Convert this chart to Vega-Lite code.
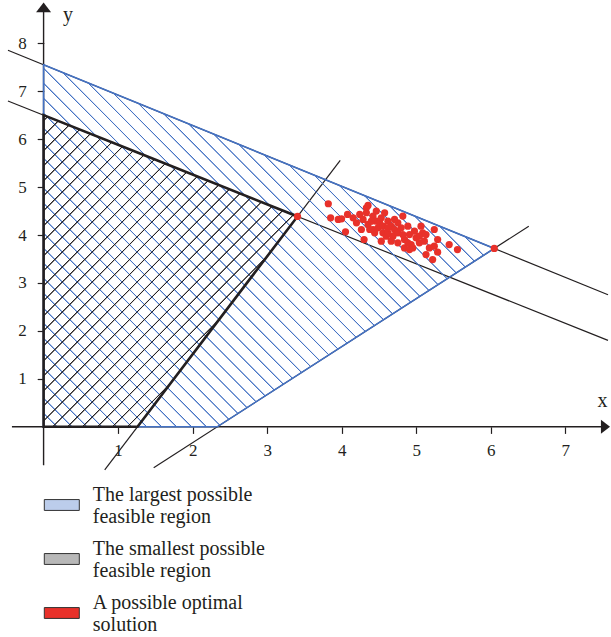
{
"$schema":"https://vega.github.io/schema/vega-lite/v6.json",
"width":611,"height":637,"padding":0,
"autosize":{"type":"fit","contains":"padding"},
"background":"white",
"config":{"view":{"stroke":null}},
"encoding":{
 "x":{"field":"x","type":"quantitative","scale":{"domain":[-0.5848,7.5728],"nice":false,"zero":false},
  "axis":{"orient":"bottom","offset":-210.2,"values":[1,2,3,4,5,6,7],"format":"d","domain":false,"grid":false,"tickSize":6.6,"tickColor":"#231f20","tickWidth":1.2,"labelFont":"Liberation Serif","labelFontSize":17,"labelColor":"#231f20","labelPadding":9,"labelFlush":false,"title":"x","titleFont":"Liberation Serif","titleFontSize":20,"titleFontWeight":"normal","titleColor":"#231f20","titleX":602,"titleY":-20,"titleAlign":"center","titleBaseline":"alphabetic","titleAngle":0}},
 "y":{"field":"y","type":"quantitative","scale":{"domain":[-4.3837,8.901],"nice":false,"zero":false},
  "axis":{"orient":"left","offset":-43.8,"values":[1,2,3,4,5,6,7,8],"format":"d","domain":false,"grid":false,"tickSize":6.6,"tickColor":"#231f20","tickWidth":1.2,"labelFont":"Liberation Serif","labelFontSize":17,"labelColor":"#231f20","labelPadding":11,"title":"y","titleFont":"Liberation Serif","titleFontSize":20,"titleFontWeight":"normal","titleColor":"#231f20","titleAngle":0,"titleX":23.7,"titleY":20,"titleAlign":"center","titleBaseline":"alphabetic"}}
},
"layer":[
 {"data":{"values":[
  {"x":-0.478,"y":7.853,"x2":7.5728,"y2":2.753},
  {"x":-0.478,"y":6.796,"x2":7.5728,"y2":1.803},
  {"x":0.82,"y":-0.899,"x2":3.98,"y2":5.558},
  {"x":1.477,"y":-0.854,"x2":6.51,"y2":4.183}]},
  "mark":{"type":"rule","color":"#231f20","strokeWidth":1.2},
  "encoding":{"x2":{"field":"x2"},"y2":{"field":"y2"}}},
 {"data":{"values":[
  {"x":-0.4246,"y":0,"x2":7.5728,"y2":0},
  {"x":0,"y":-0.8,"x2":0,"y2":8.7}]},
  "mark":{"type":"rule","color":"#231f20","strokeWidth":1.4},
  "encoding":{"x2":{"field":"x2"},"y2":{"field":"y2"}}},
 {"data":{"values":[
  {"x":0,"y":7.55,"y2":0},
  {"x":2.33,"y":6.074,"y2":0},
  {"x":6.047,"y":3.72,"y2":3.72}]},
  "mark":{"type":"area","opacity":1,"stroke":"#4472c4","strokeWidth":1.6,
   "fill":{"gradient":"linear","x1":0,"y1":1,"x2":1.0979,"y2":0.1224,"stops":[
{"offset":0.0154,"color":"rgba(68,114,196,0)"},{"offset":0.0163,"color":"#4472c4"},{"offset":0.0171,"color":"#4472c4"},{"offset":0.0180,"color":"rgba(68,114,196,0)"},
{"offset":0.0338,"color":"rgba(68,114,196,0)"},{"offset":0.0347,"color":"#4472c4"},{"offset":0.0355,"color":"#4472c4"},{"offset":0.0364,"color":"rgba(68,114,196,0)"},
{"offset":0.0522,"color":"rgba(68,114,196,0)"},{"offset":0.0531,"color":"#4472c4"},{"offset":0.0539,"color":"#4472c4"},{"offset":0.0548,"color":"rgba(68,114,196,0)"},
{"offset":0.0706,"color":"rgba(68,114,196,0)"},{"offset":0.0715,"color":"#4472c4"},{"offset":0.0723,"color":"#4472c4"},{"offset":0.0732,"color":"rgba(68,114,196,0)"},
{"offset":0.0890,"color":"rgba(68,114,196,0)"},{"offset":0.0899,"color":"#4472c4"},{"offset":0.0907,"color":"#4472c4"},{"offset":0.0916,"color":"rgba(68,114,196,0)"},
{"offset":0.1074,"color":"rgba(68,114,196,0)"},{"offset":0.1083,"color":"#4472c4"},{"offset":0.1091,"color":"#4472c4"},{"offset":0.1100,"color":"rgba(68,114,196,0)"},
{"offset":0.1258,"color":"rgba(68,114,196,0)"},{"offset":0.1267,"color":"#4472c4"},{"offset":0.1275,"color":"#4472c4"},{"offset":0.1284,"color":"rgba(68,114,196,0)"},
{"offset":0.1442,"color":"rgba(68,114,196,0)"},{"offset":0.1451,"color":"#4472c4"},{"offset":0.1459,"color":"#4472c4"},{"offset":0.1468,"color":"rgba(68,114,196,0)"},
{"offset":0.1626,"color":"rgba(68,114,196,0)"},{"offset":0.1635,"color":"#4472c4"},{"offset":0.1643,"color":"#4472c4"},{"offset":0.1652,"color":"rgba(68,114,196,0)"},
{"offset":0.1811,"color":"rgba(68,114,196,0)"},{"offset":0.1820,"color":"#4472c4"},{"offset":0.1828,"color":"#4472c4"},{"offset":0.1837,"color":"rgba(68,114,196,0)"},
{"offset":0.1995,"color":"rgba(68,114,196,0)"},{"offset":0.2004,"color":"#4472c4"},{"offset":0.2012,"color":"#4472c4"},{"offset":0.2021,"color":"rgba(68,114,196,0)"},
{"offset":0.2179,"color":"rgba(68,114,196,0)"},{"offset":0.2188,"color":"#4472c4"},{"offset":0.2196,"color":"#4472c4"},{"offset":0.2205,"color":"rgba(68,114,196,0)"},
{"offset":0.2363,"color":"rgba(68,114,196,0)"},{"offset":0.2372,"color":"#4472c4"},{"offset":0.2380,"color":"#4472c4"},{"offset":0.2389,"color":"rgba(68,114,196,0)"},
{"offset":0.2547,"color":"rgba(68,114,196,0)"},{"offset":0.2556,"color":"#4472c4"},{"offset":0.2564,"color":"#4472c4"},{"offset":0.2573,"color":"rgba(68,114,196,0)"},
{"offset":0.2731,"color":"rgba(68,114,196,0)"},{"offset":0.2740,"color":"#4472c4"},{"offset":0.2748,"color":"#4472c4"},{"offset":0.2757,"color":"rgba(68,114,196,0)"},
{"offset":0.2915,"color":"rgba(68,114,196,0)"},{"offset":0.2924,"color":"#4472c4"},{"offset":0.2932,"color":"#4472c4"},{"offset":0.2941,"color":"rgba(68,114,196,0)"},
{"offset":0.3099,"color":"rgba(68,114,196,0)"},{"offset":0.3108,"color":"#4472c4"},{"offset":0.3116,"color":"#4472c4"},{"offset":0.3125,"color":"rgba(68,114,196,0)"},
{"offset":0.3283,"color":"rgba(68,114,196,0)"},{"offset":0.3292,"color":"#4472c4"},{"offset":0.3300,"color":"#4472c4"},{"offset":0.3309,"color":"rgba(68,114,196,0)"},
{"offset":0.3467,"color":"rgba(68,114,196,0)"},{"offset":0.3476,"color":"#4472c4"},{"offset":0.3484,"color":"#4472c4"},{"offset":0.3493,"color":"rgba(68,114,196,0)"},
{"offset":0.3651,"color":"rgba(68,114,196,0)"},{"offset":0.3660,"color":"#4472c4"},{"offset":0.3668,"color":"#4472c4"},{"offset":0.3677,"color":"rgba(68,114,196,0)"},
{"offset":0.3835,"color":"rgba(68,114,196,0)"},{"offset":0.3844,"color":"#4472c4"},{"offset":0.3852,"color":"#4472c4"},{"offset":0.3861,"color":"rgba(68,114,196,0)"},
{"offset":0.4019,"color":"rgba(68,114,196,0)"},{"offset":0.4028,"color":"#4472c4"},{"offset":0.4036,"color":"#4472c4"},{"offset":0.4045,"color":"rgba(68,114,196,0)"},
{"offset":0.4203,"color":"rgba(68,114,196,0)"},{"offset":0.4212,"color":"#4472c4"},{"offset":0.4220,"color":"#4472c4"},{"offset":0.4229,"color":"rgba(68,114,196,0)"},
{"offset":0.4387,"color":"rgba(68,114,196,0)"},{"offset":0.4396,"color":"#4472c4"},{"offset":0.4404,"color":"#4472c4"},{"offset":0.4413,"color":"rgba(68,114,196,0)"},
{"offset":0.4571,"color":"rgba(68,114,196,0)"},{"offset":0.4580,"color":"#4472c4"},{"offset":0.4588,"color":"#4472c4"},{"offset":0.4597,"color":"rgba(68,114,196,0)"},
{"offset":0.4756,"color":"rgba(68,114,196,0)"},{"offset":0.4765,"color":"#4472c4"},{"offset":0.4773,"color":"#4472c4"},{"offset":0.4782,"color":"rgba(68,114,196,0)"},
{"offset":0.4940,"color":"rgba(68,114,196,0)"},{"offset":0.4949,"color":"#4472c4"},{"offset":0.4957,"color":"#4472c4"},{"offset":0.4966,"color":"rgba(68,114,196,0)"},
{"offset":0.5124,"color":"rgba(68,114,196,0)"},{"offset":0.5133,"color":"#4472c4"},{"offset":0.5141,"color":"#4472c4"},{"offset":0.5150,"color":"rgba(68,114,196,0)"},
{"offset":0.5308,"color":"rgba(68,114,196,0)"},{"offset":0.5317,"color":"#4472c4"},{"offset":0.5325,"color":"#4472c4"},{"offset":0.5334,"color":"rgba(68,114,196,0)"},
{"offset":0.5492,"color":"rgba(68,114,196,0)"},{"offset":0.5501,"color":"#4472c4"},{"offset":0.5509,"color":"#4472c4"},{"offset":0.5518,"color":"rgba(68,114,196,0)"},
{"offset":0.5676,"color":"rgba(68,114,196,0)"},{"offset":0.5685,"color":"#4472c4"},{"offset":0.5693,"color":"#4472c4"},{"offset":0.5702,"color":"rgba(68,114,196,0)"},
{"offset":0.5860,"color":"rgba(68,114,196,0)"},{"offset":0.5869,"color":"#4472c4"},{"offset":0.5877,"color":"#4472c4"},{"offset":0.5886,"color":"rgba(68,114,196,0)"},
{"offset":0.6044,"color":"rgba(68,114,196,0)"},{"offset":0.6053,"color":"#4472c4"},{"offset":0.6061,"color":"#4472c4"},{"offset":0.6070,"color":"rgba(68,114,196,0)"},
{"offset":0.6228,"color":"rgba(68,114,196,0)"},{"offset":0.6237,"color":"#4472c4"},{"offset":0.6245,"color":"#4472c4"},{"offset":0.6254,"color":"rgba(68,114,196,0)"},
{"offset":0.6412,"color":"rgba(68,114,196,0)"},{"offset":0.6421,"color":"#4472c4"},{"offset":0.6429,"color":"#4472c4"},{"offset":0.6438,"color":"rgba(68,114,196,0)"},
{"offset":0.6596,"color":"rgba(68,114,196,0)"},{"offset":0.6605,"color":"#4472c4"},{"offset":0.6613,"color":"#4472c4"},{"offset":0.6622,"color":"rgba(68,114,196,0)"},
{"offset":0.6780,"color":"rgba(68,114,196,0)"},{"offset":0.6789,"color":"#4472c4"},{"offset":0.6797,"color":"#4472c4"},{"offset":0.6806,"color":"rgba(68,114,196,0)"},
{"offset":0.6964,"color":"rgba(68,114,196,0)"},{"offset":0.6973,"color":"#4472c4"},{"offset":0.6981,"color":"#4472c4"},{"offset":0.6990,"color":"rgba(68,114,196,0)"},
{"offset":0.7148,"color":"rgba(68,114,196,0)"},{"offset":0.7157,"color":"#4472c4"},{"offset":0.7165,"color":"#4472c4"},{"offset":0.7174,"color":"rgba(68,114,196,0)"},
{"offset":0.7332,"color":"rgba(68,114,196,0)"},{"offset":0.7341,"color":"#4472c4"},{"offset":0.7349,"color":"#4472c4"},{"offset":0.7358,"color":"rgba(68,114,196,0)"},
{"offset":0.7516,"color":"rgba(68,114,196,0)"},{"offset":0.7525,"color":"#4472c4"},{"offset":0.7533,"color":"#4472c4"},{"offset":0.7542,"color":"rgba(68,114,196,0)"},
{"offset":0.7700,"color":"rgba(68,114,196,0)"},{"offset":0.7709,"color":"#4472c4"},{"offset":0.7717,"color":"#4472c4"},{"offset":0.7726,"color":"rgba(68,114,196,0)"},
{"offset":0.7885,"color":"rgba(68,114,196,0)"},{"offset":0.7894,"color":"#4472c4"},{"offset":0.7902,"color":"#4472c4"},{"offset":0.7911,"color":"rgba(68,114,196,0)"},
{"offset":0.8069,"color":"rgba(68,114,196,0)"},{"offset":0.8078,"color":"#4472c4"},{"offset":0.8086,"color":"#4472c4"},{"offset":0.8095,"color":"rgba(68,114,196,0)"},
{"offset":0.8253,"color":"rgba(68,114,196,0)"},{"offset":0.8262,"color":"#4472c4"},{"offset":0.8270,"color":"#4472c4"},{"offset":0.8279,"color":"rgba(68,114,196,0)"},
{"offset":0.8437,"color":"rgba(68,114,196,0)"},{"offset":0.8446,"color":"#4472c4"},{"offset":0.8454,"color":"#4472c4"},{"offset":0.8463,"color":"rgba(68,114,196,0)"},
{"offset":0.8621,"color":"rgba(68,114,196,0)"},{"offset":0.8630,"color":"#4472c4"},{"offset":0.8638,"color":"#4472c4"},{"offset":0.8647,"color":"rgba(68,114,196,0)"},
{"offset":0.8805,"color":"rgba(68,114,196,0)"},{"offset":0.8814,"color":"#4472c4"},{"offset":0.8822,"color":"#4472c4"},{"offset":0.8831,"color":"rgba(68,114,196,0)"},
{"offset":0.8989,"color":"rgba(68,114,196,0)"},{"offset":0.8998,"color":"#4472c4"},{"offset":0.9006,"color":"#4472c4"},{"offset":0.9015,"color":"rgba(68,114,196,0)"},
{"offset":0.9173,"color":"rgba(68,114,196,0)"},{"offset":0.9182,"color":"#4472c4"},{"offset":0.9190,"color":"#4472c4"},{"offset":0.9199,"color":"rgba(68,114,196,0)"},
{"offset":0.9357,"color":"rgba(68,114,196,0)"},{"offset":0.9366,"color":"#4472c4"},{"offset":0.9374,"color":"#4472c4"},{"offset":0.9383,"color":"rgba(68,114,196,0)"},
{"offset":0.9541,"color":"rgba(68,114,196,0)"},{"offset":0.9550,"color":"#4472c4"},{"offset":0.9558,"color":"#4472c4"},{"offset":0.9567,"color":"rgba(68,114,196,0)"},
{"offset":0.9725,"color":"rgba(68,114,196,0)"},{"offset":0.9734,"color":"#4472c4"},{"offset":0.9742,"color":"#4472c4"},{"offset":0.9751,"color":"rgba(68,114,196,0)"},
{"offset":0.9909,"color":"rgba(68,114,196,0)"},{"offset":0.9918,"color":"#4472c4"},{"offset":0.9926,"color":"#4472c4"},{"offset":0.9935,"color":"rgba(68,114,196,0)"}
   ]}},
  "encoding":{"y2":{"field":"y2"}}},
 {"data":{"values":[
  {"x":0,"y":6.5,"y2":0},
  {"x":1.26,"y":5.719,"y2":0},
  {"x":3.407,"y":4.387,"y2":4.387}]},
  "mark":{"type":"area","opacity":1,"stroke":"#231f20","strokeWidth":2.6,
   "fill":{"gradient":"linear","x1":0,"y1":0,"x2":0.8914,"y2":1.0888,"stops":[
{"offset":0.0081,"color":"rgba(35,31,32,0)"},{"offset":0.0094,"color":"#231f20"},{"offset":0.0106,"color":"#231f20"},{"offset":0.0119,"color":"rgba(35,31,32,0)"},
{"offset":0.0346,"color":"rgba(35,31,32,0)"},{"offset":0.0359,"color":"#231f20"},{"offset":0.0371,"color":"#231f20"},{"offset":0.0384,"color":"rgba(35,31,32,0)"},
{"offset":0.0610,"color":"rgba(35,31,32,0)"},{"offset":0.0623,"color":"#231f20"},{"offset":0.0635,"color":"#231f20"},{"offset":0.0648,"color":"rgba(35,31,32,0)"},
{"offset":0.0875,"color":"rgba(35,31,32,0)"},{"offset":0.0888,"color":"#231f20"},{"offset":0.0900,"color":"#231f20"},{"offset":0.0913,"color":"rgba(35,31,32,0)"},
{"offset":0.1140,"color":"rgba(35,31,32,0)"},{"offset":0.1153,"color":"#231f20"},{"offset":0.1165,"color":"#231f20"},{"offset":0.1178,"color":"rgba(35,31,32,0)"},
{"offset":0.1405,"color":"rgba(35,31,32,0)"},{"offset":0.1418,"color":"#231f20"},{"offset":0.1430,"color":"#231f20"},{"offset":0.1443,"color":"rgba(35,31,32,0)"},
{"offset":0.1669,"color":"rgba(35,31,32,0)"},{"offset":0.1682,"color":"#231f20"},{"offset":0.1694,"color":"#231f20"},{"offset":0.1707,"color":"rgba(35,31,32,0)"},
{"offset":0.1934,"color":"rgba(35,31,32,0)"},{"offset":0.1947,"color":"#231f20"},{"offset":0.1959,"color":"#231f20"},{"offset":0.1972,"color":"rgba(35,31,32,0)"},
{"offset":0.2199,"color":"rgba(35,31,32,0)"},{"offset":0.2212,"color":"#231f20"},{"offset":0.2224,"color":"#231f20"},{"offset":0.2237,"color":"rgba(35,31,32,0)"},
{"offset":0.2464,"color":"rgba(35,31,32,0)"},{"offset":0.2477,"color":"#231f20"},{"offset":0.2489,"color":"#231f20"},{"offset":0.2502,"color":"rgba(35,31,32,0)"},
{"offset":0.2728,"color":"rgba(35,31,32,0)"},{"offset":0.2741,"color":"#231f20"},{"offset":0.2753,"color":"#231f20"},{"offset":0.2766,"color":"rgba(35,31,32,0)"},
{"offset":0.2993,"color":"rgba(35,31,32,0)"},{"offset":0.3006,"color":"#231f20"},{"offset":0.3018,"color":"#231f20"},{"offset":0.3031,"color":"rgba(35,31,32,0)"},
{"offset":0.3258,"color":"rgba(35,31,32,0)"},{"offset":0.3271,"color":"#231f20"},{"offset":0.3283,"color":"#231f20"},{"offset":0.3296,"color":"rgba(35,31,32,0)"},
{"offset":0.3523,"color":"rgba(35,31,32,0)"},{"offset":0.3536,"color":"#231f20"},{"offset":0.3548,"color":"#231f20"},{"offset":0.3561,"color":"rgba(35,31,32,0)"},
{"offset":0.3787,"color":"rgba(35,31,32,0)"},{"offset":0.3800,"color":"#231f20"},{"offset":0.3812,"color":"#231f20"},{"offset":0.3825,"color":"rgba(35,31,32,0)"},
{"offset":0.4052,"color":"rgba(35,31,32,0)"},{"offset":0.4065,"color":"#231f20"},{"offset":0.4077,"color":"#231f20"},{"offset":0.4090,"color":"rgba(35,31,32,0)"},
{"offset":0.4317,"color":"rgba(35,31,32,0)"},{"offset":0.4330,"color":"#231f20"},{"offset":0.4342,"color":"#231f20"},{"offset":0.4355,"color":"rgba(35,31,32,0)"},
{"offset":0.4582,"color":"rgba(35,31,32,0)"},{"offset":0.4595,"color":"#231f20"},{"offset":0.4607,"color":"#231f20"},{"offset":0.4620,"color":"rgba(35,31,32,0)"},
{"offset":0.4846,"color":"rgba(35,31,32,0)"},{"offset":0.4859,"color":"#231f20"},{"offset":0.4871,"color":"#231f20"},{"offset":0.4884,"color":"rgba(35,31,32,0)"},
{"offset":0.5111,"color":"rgba(35,31,32,0)"},{"offset":0.5124,"color":"#231f20"},{"offset":0.5136,"color":"#231f20"},{"offset":0.5149,"color":"rgba(35,31,32,0)"},
{"offset":0.5376,"color":"rgba(35,31,32,0)"},{"offset":0.5389,"color":"#231f20"},{"offset":0.5401,"color":"#231f20"},{"offset":0.5414,"color":"rgba(35,31,32,0)"},
{"offset":0.5641,"color":"rgba(35,31,32,0)"},{"offset":0.5654,"color":"#231f20"},{"offset":0.5666,"color":"#231f20"},{"offset":0.5679,"color":"rgba(35,31,32,0)"},
{"offset":0.5905,"color":"rgba(35,31,32,0)"},{"offset":0.5918,"color":"#231f20"},{"offset":0.5930,"color":"#231f20"},{"offset":0.5943,"color":"rgba(35,31,32,0)"},
{"offset":0.6170,"color":"rgba(35,31,32,0)"},{"offset":0.6183,"color":"#231f20"},{"offset":0.6195,"color":"#231f20"},{"offset":0.6208,"color":"rgba(35,31,32,0)"},
{"offset":0.6435,"color":"rgba(35,31,32,0)"},{"offset":0.6448,"color":"#231f20"},{"offset":0.6460,"color":"#231f20"},{"offset":0.6473,"color":"rgba(35,31,32,0)"},
{"offset":0.6700,"color":"rgba(35,31,32,0)"},{"offset":0.6713,"color":"#231f20"},{"offset":0.6725,"color":"#231f20"},{"offset":0.6738,"color":"rgba(35,31,32,0)"},
{"offset":0.6964,"color":"rgba(35,31,32,0)"},{"offset":0.6977,"color":"#231f20"},{"offset":0.6989,"color":"#231f20"},{"offset":0.7002,"color":"rgba(35,31,32,0)"},
{"offset":0.7229,"color":"rgba(35,31,32,0)"},{"offset":0.7242,"color":"#231f20"},{"offset":0.7254,"color":"#231f20"},{"offset":0.7267,"color":"rgba(35,31,32,0)"},
{"offset":0.7494,"color":"rgba(35,31,32,0)"},{"offset":0.7507,"color":"#231f20"},{"offset":0.7519,"color":"#231f20"},{"offset":0.7532,"color":"rgba(35,31,32,0)"},
{"offset":0.7758,"color":"rgba(35,31,32,0)"},{"offset":0.7771,"color":"#231f20"},{"offset":0.7783,"color":"#231f20"},{"offset":0.7796,"color":"rgba(35,31,32,0)"},
{"offset":0.8023,"color":"rgba(35,31,32,0)"},{"offset":0.8036,"color":"#231f20"},{"offset":0.8048,"color":"#231f20"},{"offset":0.8061,"color":"rgba(35,31,32,0)"},
{"offset":0.8288,"color":"rgba(35,31,32,0)"},{"offset":0.8301,"color":"#231f20"},{"offset":0.8313,"color":"#231f20"},{"offset":0.8326,"color":"rgba(35,31,32,0)"},
{"offset":0.8553,"color":"rgba(35,31,32,0)"},{"offset":0.8566,"color":"#231f20"},{"offset":0.8578,"color":"#231f20"},{"offset":0.8591,"color":"rgba(35,31,32,0)"},
{"offset":0.8817,"color":"rgba(35,31,32,0)"},{"offset":0.8830,"color":"#231f20"},{"offset":0.8842,"color":"#231f20"},{"offset":0.8855,"color":"rgba(35,31,32,0)"},
{"offset":0.9082,"color":"rgba(35,31,32,0)"},{"offset":0.9095,"color":"#231f20"},{"offset":0.9107,"color":"#231f20"},{"offset":0.9120,"color":"rgba(35,31,32,0)"},
{"offset":0.9347,"color":"rgba(35,31,32,0)"},{"offset":0.9360,"color":"#231f20"},{"offset":0.9372,"color":"#231f20"},{"offset":0.9385,"color":"rgba(35,31,32,0)"},
{"offset":0.9612,"color":"rgba(35,31,32,0)"},{"offset":0.9625,"color":"#231f20"},{"offset":0.9637,"color":"#231f20"},{"offset":0.9650,"color":"rgba(35,31,32,0)"},
{"offset":0.9876,"color":"rgba(35,31,32,0)"},{"offset":0.9889,"color":"#231f20"},{"offset":0.9901,"color":"#231f20"},{"offset":0.9914,"color":"rgba(35,31,32,0)"}
   ]}},
  "encoding":{"y2":{"field":"y2"}}},
 {"data":{"values":[{"x":0,"y":8.745}]},
  "mark":{"type":"point","shape":"M0,-0.65L-1,0.65L1,0.65Z","size":225,"filled":true,"color":"#231f20","opacity":1}},
 {"data":{"values":[{"x":7.539,"y":0}]},
  "mark":{"type":"point","shape":"M0.65,0L-0.65,-1L-0.65,1Z","size":196,"filled":true,"color":"#231f20","opacity":1}},
 {"data":{"values":[
  {"x":3.407,"y":4.387},{"x":6.047,"y":3.72},
  {"x":3.82,"y":4.652},{"x":3.851,"y":4.359},{"x":4.051,"y":4.066},{"x":4.30,"y":3.906},{"x":3.953,"y":4.324},
  {"x":3.998,"y":4.338},{"x":4.078,"y":4.429},{"x":4.153,"y":4.359},{"x":4.242,"y":4.429},{"x":4.331,"y":4.568},
  {"x":4.353,"y":4.617},{"x":4.287,"y":4.324},{"x":4.353,"y":4.22},{"x":4.42,"y":4.394},{"x":4.464,"y":4.289},
  {"x":4.487,"y":4.15},{"x":4.553,"y":4.045},{"x":4.576,"y":4.464},{"x":4.62,"y":4.289},{"x":4.664,"y":4.185},
  {"x":4.709,"y":4.115},{"x":4.531,"y":3.871},{"x":4.598,"y":3.976},{"x":4.687,"y":3.976},{"x":4.753,"y":4.045},
  {"x":4.82,"y":4.394},{"x":4.798,"y":4.15},{"x":4.842,"y":3.906},{"x":4.887,"y":4.185},{"x":4.909,"y":4.01},
  {"x":4.931,"y":3.801},{"x":4.953,"y":3.731},{"x":4.998,"y":3.941},{"x":5.042,"y":3.836},{"x":5.064,"y":4.185},
  {"x":5.087,"y":4.045},{"x":5.109,"y":3.871},{"x":5.131,"y":3.592},{"x":5.22,"y":3.487},{"x":5.242,"y":4.115},
  {"x":5.242,"y":3.766},{"x":5.287,"y":3.906},{"x":5.287,"y":3.641},{"x":5.442,"y":3.801},{"x":5.553,"y":3.697},
  {"x":4.842,"y":3.731},{"x":4.909,"y":3.697},{"x":4.753,"y":3.836},{"x":4.442,"y":4.045},{"x":4.42,"y":4.115},
  {"x":4.376,"y":4.115},{"x":4.264,"y":4.115},{"x":4.62,"y":4.045},{"x":4.664,"y":3.871},{"x":4.753,"y":4.254},
  {"x":4.509,"y":4.254},{"x":4.553,"y":4.185},{"x":4.709,"y":4.324},{"x":4.976,"y":4.08},{"x":5.042,"y":3.976},
  {"x":5.131,"y":4.01},{"x":5.176,"y":3.731},{"x":4.331,"y":4.464},{"x":4.398,"y":4.289},{"x":4.198,"y":4.254},
  {"x":4.464,"y":4.498},{"x":4.531,"y":4.359},{"x":4.62,"y":4.15},{"x":4.82,"y":4.01},{"x":4.887,"y":3.836}]},
  "mark":{"type":"point","filled":true,"size":52,"opacity":1},
  "encoding":{"color":{"datum":"A possible optimal solution","type":"nominal",
   "scale":{"domain":["The largest possible feasible region","The smallest possible feasible region","A possible optimal solution"],"range":["#bccdeb","#b8b8b8","#e8312a"]},
   "legend":{"orient":"none","legendX":43.8,"legendY":487,"title":null,"direction":"vertical",
    "symbolType":"M-1,-0.31H1V0.31H-1Z","symbolSize":1225,"symbolStrokeWidth":1,"symbolStrokeColor":"#333333","symbolOpacity":1,
    "labelFont":"Liberation Serif","labelFontSize":20,"labelColor":"#231f20","labelOffset":13,"labelLimit":0,"rowPadding":12,"labelBaseline":"bottom",
    "labelExpr":"datum.value == 'The largest possible feasible region' ? ['The largest possible','feasible region'] : datum.value == 'The smallest possible feasible region' ? ['The smallest possible','feasible region'] : ['A possible optimal','solution']"}}}}
]
}
